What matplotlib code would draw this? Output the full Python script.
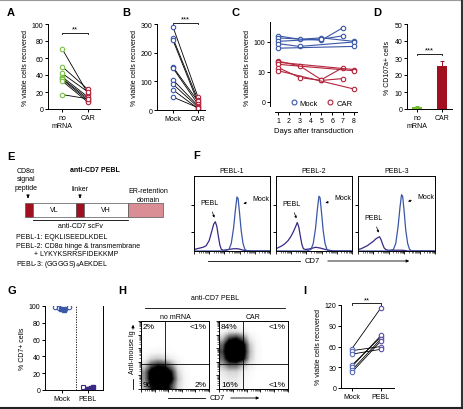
import numpy as np
import matplotlib.pyplot as plt
from matplotlib.patches import Rectangle

# ---- data ----
a_nomrna = [71, 50, 42, 38, 36, 35, 33, 17]
a_car = [18, 23, 20, 14, 12, 10, 8, 12]

b_mock = [290, 250, 243, 150, 146, 105, 90, 70, 45]
b_car = [45, 35, 25, 30, 20, 15, 10, 5, 8]

c_mock_days = [[1, 3, 5, 8], [1, 5, 7], [1, 5, 7], [1, 3, 8], [1, 8]]
c_mock_vals = [[160, 123, 137, 105], [137, 114, 300], [105, 125, 160], [88, 71, 100], [62, 71]]
c_car_days = [[1, 3, 5, 7], [1, 8], [1, 8], [1, 3, 5, 7], [1, 8]]
c_car_vals = [[23, 16, 5.5, 14], [21, 12], [18, 11], [14, 6.5, 5.2, 6], [11, 2.7]]
c_days = [1, 2, 3, 4, 5, 6, 7, 8]

d_cats = ['no\nmRNA', 'CAR']
d_vals = [1.2, 25.5]
d_err = [0.3, 3.0]

f_titles = ['PEBL-1', 'PEBL-2', 'PEBL-3']
f_mock_x = [0, 0.40, 0.46, 0.49, 0.52, 0.545, 0.565, 0.58, 0.60, 0.62, 0.645, 0.67, 0.70, 1.0]
f_mock_y = [
    [0, 0, 0.02, 0.1, 0.3, 0.55, 0.72, 0.70, 0.5, 0.28, 0.1, 0.02, 0, 0],
    [0, 0, 0.02, 0.1, 0.3, 0.56, 0.73, 0.71, 0.5, 0.28, 0.1, 0.02, 0, 0],
    [0, 0, 0.02, 0.1, 0.32, 0.58, 0.75, 0.73, 0.52, 0.28, 0.1, 0.02, 0, 0],
]
f_pebl_x = [0, 0.04, 0.08, 0.12, 0.16, 0.2, 0.23, 0.26, 0.28, 0.30, 0.32, 0.34, 0.36, 0.39,
            0.45, 0.52, 0.58, 0.65, 0.75, 1.0]
f_pebl_y = [
    [0.02, 0.03, 0.04, 0.05, 0.07, 0.14, 0.25, 0.36, 0.39, 0.33, 0.2, 0.08, 0.02, 0.01, 0.02, 0.03, 0.03, 0.01, 0, 0],
    [0.03, 0.05, 0.07, 0.1, 0.14, 0.2, 0.26, 0.33, 0.38, 0.32, 0.2, 0.09, 0.03, 0.02, 0.03, 0.05, 0.04, 0.02, 0, 0],
    [0.02, 0.03, 0.05, 0.07, 0.1, 0.13, 0.16, 0.18, 0.19, 0.15, 0.09, 0.04, 0.02, 0.01, 0.01, 0.01, 0.01, 0, 0, 0],
]

g_cats = ['Mock', 'PEBL']
g_mock_open = [99, 98, 97, 99]
g_mock_fill = [96, 95]
g_pebl_open = [4]
g_pebl_fill_c = [1.5, 1]
g_pebl_fill_s = [2, 3]

h_titles = ['no mRNA', 'CAR']
h_pcts = [['2%', '<1%', '96%', '2%'], ['84%', '<1%', '16%', '<1%']]
# density of events on a 10x10 grid, rows bottom -> top, columns left -> right
h_dens = [
    [[0.3, 0.7, 0.9, 0.9, 0.6, 0.2, 0.05, 0, 0, 0],
     [0.4, 0.85, 1.0, 1.0, 0.8, 0.25, 0.05, 0, 0, 0],
     [0.4, 0.85, 1.0, 1.0, 0.7, 0.2, 0.03, 0, 0, 0],
     [0.2, 0.55, 0.7, 0.65, 0.4, 0.1, 0.02, 0, 0, 0],
     [0.05, 0.2, 0.25, 0.2, 0.1, 0.03, 0, 0, 0, 0],
     [0.01, 0.03, 0.05, 0.03, 0.01, 0, 0, 0, 0, 0],
     [0, 0, 0, 0, 0, 0, 0, 0, 0, 0],
     [0, 0, 0, 0, 0, 0, 0, 0, 0, 0],
     [0, 0, 0, 0, 0, 0, 0, 0, 0, 0],
     [0, 0, 0, 0, 0, 0, 0, 0, 0, 0]],
    [[0.05, 0.1, 0.1, 0.05, 0, 0, 0, 0, 0, 0],
     [0.08, 0.12, 0.12, 0.06, 0.02, 0, 0, 0, 0, 0],
     [0.12, 0.2, 0.2, 0.1, 0.03, 0, 0, 0, 0, 0],
     [0.3, 0.5, 0.5, 0.3, 0.1, 0.02, 0, 0, 0, 0],
     [0.5, 0.9, 1.0, 0.8, 0.25, 0.05, 0, 0, 0, 0],
     [0.6, 1.0, 1.0, 0.9, 0.3, 0.05, 0, 0, 0, 0],
     [0.5, 1.0, 1.0, 0.85, 0.25, 0.04, 0, 0, 0, 0],
     [0.25, 0.6, 0.7, 0.5, 0.12, 0.02, 0, 0, 0, 0],
     [0.05, 0.15, 0.15, 0.1, 0.02, 0, 0, 0, 0, 0],
     [0, 0.02, 0.02, 0, 0, 0, 0, 0, 0, 0]],
]

i_cats = ['Mock', 'PEBL']
i_mock = [57, 54, 49, 33, 31, 26, 23]
i_pebl = [116, 60, 56, 74, 76, 71, 68]

# ---- styling ----
GREEN = '#78c043'
RED = '#b3233a'
DKRED = '#a0101f'
BLUE = '#3a57a8'
PURPLE = '#3b2787'
PINK = '#d98d94'
plt.rcParams['font.family'] = ['Liberation Sans', 'DejaVu Sans']
plt.rcParams['font.size'] = 5
plt.rcParams['axes.linewidth'] = 0.7
plt.rcParams['xtick.major.width'] = 0.7
plt.rcParams['ytick.major.width'] = 0.7
plt.rcParams['xtick.major.size'] = 2
plt.rcParams['ytick.major.size'] = 2
plt.rcParams['xtick.major.pad'] = 1.5
plt.rcParams['ytick.major.pad'] = 1.5

W, H = 463, 410


def box(x0, y0, x1, y1):
    return [x0 / W, 1 - y1 / H, (x1 - x0) / W, (y1 - y0) / H]


def prism(ax):
    ax.spines['top'].set_visible(False)
    ax.spines['right'].set_visible(False)
    ax.tick_params(labelsize=5)


def sig(ax, x0, x1, y, txt, dy):
    ax.plot([x0, x0, x1, x1], [y - dy, y, y, y - dy], color='black', lw=0.6, clip_on=False)
    ax.text((x0 + x1) / 2, y, txt, ha='center', va='bottom', fontsize=5.5, clip_on=False)


fig = plt.figure(figsize=(W / 100, H / 100), dpi=100)
ov = fig.add_axes([0, 0, 1, 1])
ov.set_xlim(0, W)
ov.set_ylim(H, 0)
ov.axis('off')

# panel letters
for lab, x, y in [('A', 7, 13), ('B', 122, 13), ('C', 232, 13), ('D', 373, 13), ('E', 7, 157),
                  ('F', 193, 156), ('G', 7, 291), ('H', 118, 291), ('I', 303, 291)]:
    ov.text(x, y, lab, fontsize=8, fontweight='bold', va='center', ha='left')

# ---- A ----
ax = fig.add_axes(box(48, 25, 100, 110))
for v0, v1 in zip(a_nomrna, a_car):
    ax.plot([0, 1], [v0, v1], color='black', lw=0.6, zorder=1)
ax.plot([0] * len(a_nomrna), a_nomrna, 'o', mfc='white', mec=GREEN, ms=3.2, mew=0.8, ls='none')
ax.plot([1] * len(a_car), a_car, 'o', mfc='white', mec=RED, ms=3.2, mew=0.8, ls='none')
ax.set_xlim(-0.54, 1.46)
ax.set_ylim(0, 100)
ax.set_yticks([0, 20, 40, 60, 80, 100])
ax.set_xticks([0, 1], ['no\nmRNA', 'CAR'])
prism(ax)
ax.set_ylabel('% viable cells recovered', fontsize=5, labelpad=2)
sig(ax, 0, 1, 90, '**', 2)

# ---- B ----
ax = fig.add_axes(box(157, 25, 205, 111))
for v0, v1 in zip(b_mock, b_car):
    ax.plot([0, 1], [v0, v1], color='black', lw=0.6, zorder=1)
ax.plot([0] * len(b_mock), b_mock, 'o', mfc='white', mec=BLUE, ms=3.2, mew=0.8, ls='none')
ax.plot([1] * len(b_car), b_car, 'o', mfc='white', mec=RED, ms=3.2, mew=0.8, ls='none')
ax.set_xlim(-0.64, 1.28)
ax.set_ylim(0, 300)
ax.set_yticks([0, 100, 200, 300])
ax.set_xticks([0, 1], ['Mock', 'CAR'])
prism(ax)
ax.set_ylabel('% viable cells recovered', fontsize=5, labelpad=2)
sig(ax, 0, 1, 305, '***', 6)

# ---- C ----
ax = fig.add_axes(box(270, 23, 357, 113))
for d, v in zip(c_mock_days, c_mock_vals):
    ax.plot(d, v, '-o', color=BLUE, mfc='white', mec=BLUE, ms=3.2, mew=0.8, lw=0.8)
for d, v in zip(c_car_days, c_car_vals):
    ax.plot(d, v, '-o', color=RED, mfc='white', mec=RED, ms=3.2, mew=0.8, lw=0.8)
ax.set_yscale('log')
ax.set_ylim(0.46, 464)
ax.set_xlim(0.26, 8.3)
ax.set_yticks([1, 10, 100], ['0', '10', '100'])
ax.minorticks_off()
ax.set_xticks(c_days)
prism(ax)
ax.spines['left'].set_bounds(0.75, 464)
ax.spines['bottom'].set_bounds(0.7, 8.3)
ax.set_ylabel('% viable cells recovered', fontsize=5, labelpad=2)
ax.set_xlabel('Days after transduction', fontsize=5.5, labelpad=2)
ax.plot([], [], 'o', mfc='white', mec=BLUE, ms=3.5, mew=0.8, label='Mock')
ax.plot([], [], 'o', mfc='white', mec=RED, ms=3.5, mew=0.8, label='CAR')
ax.legend(loc='lower left', bbox_to_anchor=(0.14, -0.02), ncol=2, frameon=False, fontsize=5.5,
          handletextpad=0.2, columnspacing=1.0, handlelength=1.2)

# ---- D ----
ax = fig.add_axes(box(407, 25, 452, 110))
d_cols = ['#6cbf2c', DKRED]
ax.bar([0, 1], d_vals, width=0.38, color=d_cols)
for k in range(2):
    ax.errorbar([k], [d_vals[k]], yerr=[[0], [d_err[k]]], color=d_cols[k], lw=0.7,
                capsize=1.5, capthick=0.7, fmt='none')
ax.set_xlim(-0.4, 1.4)
ax.set_ylim(0, 50)
ax.set_yticks([0, 10, 20, 30, 40, 50])
ax.set_xticks([0, 1], d_cats)
prism(ax)
ax.set_ylabel('% CD107a+ cells', fontsize=5, labelpad=2)
sig(ax, 0, 1, 32.5, '***', 1)

# ---- E (construct diagram) ----
ov.text(95, 171, 'anti-CD7 PEBL', fontsize=5, fontweight='bold', ha='center', va='center')
ov.text(26, 180, 'CD8α\nsignal\npeptide', fontsize=5, ha='center', va='center', linespacing=1.25)
ov.text(80, 190, 'linker', fontsize=5, ha='center', va='center')
ov.text(148, 196, 'ER-retention\ndomain', fontsize=5, ha='center', va='center', linespacing=1.25)
for x in (28, 80):
    ov.annotate('', xy=(x, 202), xytext=(x, 195),
                arrowprops=dict(arrowstyle='-|>', lw=0.7, color='black', mutation_scale=4))
segs = [(25, 33, DKRED, ''), (33, 76, 'white', 'VL'), (76, 84, DKRED, ''),
        (84, 128, 'white', 'VH'), (128, 163, PINK, '')]
for x0, x1, c, t in segs:
    ov.add_patch(Rectangle((x0, 204), x1 - x0, 14, facecolor=c, edgecolor='#555555', lw=0.5))
    if t:
        ov.text((x0 + x1) / 2, 211, t, fontsize=5, ha='center', va='center')
ov.plot([33, 128], [221, 221], color='black', lw=0.6)
ov.text(80, 227, 'anti-CD7 scFv', fontsize=5, ha='center', va='center')
ov.text(16, 238, 'PEBL-1: EQKLISEEDLKDEL', fontsize=5, ha='left', va='center')
ov.text(16, 247, 'PEBL-2: CD8α hinge & transmembrane', fontsize=5, ha='left', va='center')
ov.text(34, 255, '+ LYKYKSRRSFIDEKKMP', fontsize=5, ha='left', va='center')
ov.text(16, 265, 'PEBL-3: (GGGGS)$_4$AEKDEL', fontsize=5, ha='left', va='center')

# ---- F (histograms) ----
log_major = [0, 0.2, 0.4, 0.6, 0.8, 1.0]
log_minor = [0.2 * (k + np.log10(m)) for k in range(5) for m in range(2, 10)]
for i, (x0, x1) in enumerate([(194, 270), (276, 352), (358, 435)]):
    ax = fig.add_axes(box(x0, 177, x1, 252))
    ax.plot(f_pebl_x, f_pebl_y[i], color=PURPLE, lw=0.9)
    ax.plot(f_mock_x, f_mock_y[i], color=BLUE, lw=0.9)
    ax.set_xlim(0, 1)
    ax.set_ylim(0, 1)
    ax.set_xticks(log_major, [])
    ax.set_xticks(log_minor, minor=True)
    ax.tick_params(axis='x', which='major', length=2.5, width=0.6)
    ax.tick_params(axis='x', which='minor', length=1.3, width=0.4)
    ax.set_yticks([0.25, 0.62], [])
    ax.set_title(f_titles[i], fontsize=5, pad=3)
    pk = f_pebl_y[i].index(max(f_pebl_y[i]))
    mk = f_mock_y[i].index(max(f_mock_y[i]))
    ax.annotate('Mock', xy=(f_mock_x[mk] + 0.05, f_mock_y[i][mk] - 0.1),
                xytext=(f_mock_x[mk] + 0.2, f_mock_y[i][mk] - 0.02), fontsize=5, ha='left', va='center',
                arrowprops=dict(arrowstyle='-|>', lw=0.5, color='black', mutation_scale=3))
    ax.annotate('PEBL', xy=(f_pebl_x[pk] + 0.0, f_pebl_y[i][pk] + 0.02),
                xytext=(f_pebl_x[pk] - 0.08, f_pebl_y[i][pk] + 0.25), fontsize=5, ha='center', va='center',
                arrowprops=dict(arrowstyle='-|>', lw=0.5, color='black', mutation_scale=3))
ov.plot([208, 300], [262, 262], color='black', lw=0.6)
ov.text(312, 262, 'CD7', fontsize=5.5, ha='center', va='center')
ov.annotate('', xy=(412, 262), xytext=(325, 262),
            arrowprops=dict(arrowstyle='-|>', lw=0.6, color='black', mutation_scale=4))

# ---- G ----
ax = fig.add_axes(box(45, 307, 103, 391))
ax.plot([-0.25, -0.1, 0.12, 0.27], g_mock_open, 'o', mfc='white', mec=BLUE, ms=3.2, mew=0.8)
ax.plot([-0.05, 0.07], g_mock_fill, 's', color=BLUE, ms=3.2)
ax.plot([0.8], g_pebl_open, 's', mfc='white', mec=PURPLE, ms=3.2, mew=0.8)
ax.plot([0.95, 1.05], g_pebl_fill_c, 'o', color=PURPLE, ms=3.2)
ax.plot([1.12, 1.2], g_pebl_fill_s, 's', color=PURPLE, ms=3.2)
ax.axvline(0.54, color='black', lw=0.6, ls=(0, (1.5, 1.5)))
ax.set_xlim(-0.65, 1.58)
ax.set_ylim(0, 100)
ax.set_yticks([0, 20, 40, 60, 80, 100])
ax.set_xticks([0, 1], g_cats)
ax.spines['top'].set_visible(False)
ax.tick_params(labelsize=5)
ax.set_ylabel('% CD7+ cells', fontsize=5, labelpad=2)

# ---- H (dot plots) ----
ov.text(215, 299, 'anti-CD7 PEBL', fontsize=5, ha='center', va='center')
ov.plot([145, 285], [309, 309], color='black', lw=0.6)
for i, (x0, x1) in enumerate([(141, 209), (219, 288)]):
    ax = fig.add_axes(box(x0, 322, x1, 390))
    ax.imshow(np.array(h_dens[i]), extent=[0, 1, 0, 1], origin='lower', cmap='Greys',
              vmin=0, vmax=0.75, interpolation='bilinear', aspect='auto')
    ax.axvline(0.35, color='black', lw=0.6)
    ax.axhline(0.37, color='black', lw=0.6)
    ax.set_xlim(0, 1)
    ax.set_ylim(0, 1)
    ax.set_xticks(log_major, [])
    ax.set_xticks(log_minor, minor=True)
    ax.set_yticks(log_major, [])
    ax.set_yticks(log_minor, minor=True)
    ax.tick_params(which='major', length=2.2, width=0.6)
    ax.tick_params(which='minor', length=1.2, width=0.4)
    ax.set_title(h_titles[i], fontsize=5, pad=2.5)
    tl, tr, bl, br = h_pcts[i]
    ax.text(0.03, 0.97, tl, transform=ax.transAxes, fontsize=6, ha='left', va='top')
    ax.text(0.97, 0.97, tr, transform=ax.transAxes, fontsize=6, ha='right', va='top')
    ax.text(0.03, 0.01, bl, transform=ax.transAxes, fontsize=6, ha='left', va='bottom')
    ax.text(0.97, 0.01, br, transform=ax.transAxes, fontsize=6, ha='right', va='bottom')
ov.text(133, 352, 'Anti-mouse Ig', fontsize=5, rotation=90, ha='center', va='center')
ov.annotate('', xy=(133, 323), xytext=(133, 333),
            arrowprops=dict(arrowstyle='-|>', lw=0.6, color='black', mutation_scale=4))
ov.plot([133, 133], [380, 390], color='black', lw=0.6)
ov.plot([168, 205], [399, 399], color='black', lw=0.6)
ov.text(217, 399, 'CD7', fontsize=5.5, ha='center', va='center')
ov.annotate('', xy=(262, 399), xytext=(228, 399),
            arrowprops=dict(arrowstyle='-|>', lw=0.6, color='black', mutation_scale=4))

# ---- I ----
ax = fig.add_axes(box(341, 306, 394, 389))
for v0, v1 in zip(i_mock, i_pebl):
    ax.plot([0, 1], [v0, v1], color='black', lw=0.6, zorder=1)
ax.plot([0] * len(i_mock), i_mock, 'o', mfc='white', mec='#5b6fb8', ms=3.2, mew=0.8, ls='none')
ax.plot([1] * len(i_pebl), i_pebl, 'o', mfc='white', mec='#5a4ea8', ms=3.2, mew=0.8, ls='none')
ax.set_xlim(-0.38, 1.45)
ax.set_ylim(0, 120)
ax.set_yticks([0, 30, 60, 90, 120])
ax.set_xticks([0, 1], i_cats)
prism(ax)
ax.set_ylabel('% viable cells recovered', fontsize=5, labelpad=2)
sig(ax, 0, 1, 123, '**', 2.5)

# figure frame
ov.plot([0, W], [0.5, 0.5], color='#999999', lw=0.8)
ov.plot([W - 1.5, W - 1.5], [0, H], color='#333333', lw=1.5)
ov.plot([0, W], [H - 1.5, H - 1.5], color='#222222', lw=1.5)

fig.savefig('out.png', dpi=100)
